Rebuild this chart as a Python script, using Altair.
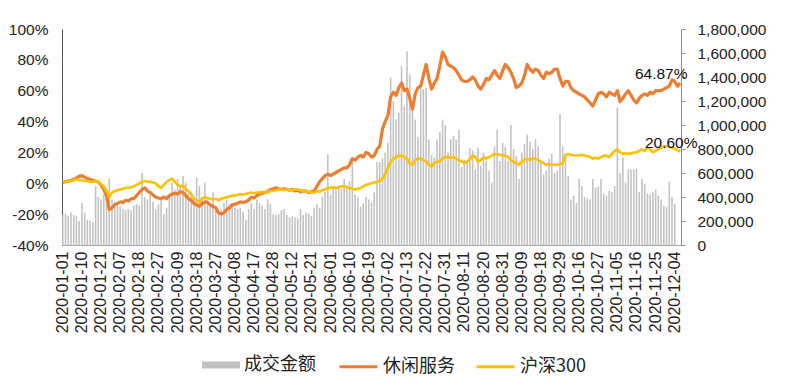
import altair as alt
import pandas as pd

# ---- calendar (China A-share trading days 2020, incl. the 01-01 row) ----
holidays = ["2020-01-24", "2020-01-27", "2020-01-28", "2020-01-29", "2020-01-30", "2020-01-31",
            "2020-04-06", "2020-05-01", "2020-05-04", "2020-05-05", "2020-06-25", "2020-06-26",
            "2020-10-01", "2020-10-02", "2020-10-05", "2020-10-06", "2020-10-07", "2020-10-08"]
dates = [d.strftime("%Y-%m-%d") for d in pd.bdate_range("2020-01-01", "2020-12-08")]
dates = [d for d in dates if d not in holidays]

tick_labels = ["2020-01-01", "2020-01-10", "2020-01-21", "2020-02-07", "2020-02-18", "2020-02-27",
               "2020-03-09", "2020-03-18", "2020-03-27", "2020-04-08", "2020-04-17", "2020-04-28",
               "2020-05-12", "2020-05-21", "2020-06-01", "2020-06-10", "2020-06-19", "2020-07-02",
               "2020-07-13", "2020-07-22", "2020-07-31", "2020-08-11", "2020-08-20", "2020-08-31",
               "2020-09-09", "2020-09-18", "2020-09-29", "2020-10-16", "2020-10-27", "2020-11-05",
               "2020-11-16", "2020-11-25", "2020-12-04"]

# 休闲服务 cumulative return (%)
leisure = [0.5, 1.0, 1.5, 2.0, 2.5, 3.5, 4.5, 5.0, 4.0, 3.0,
           2.5, 2.0, 1.5, 1.0, -1.0, -4.0, -8.0, -17.0, -16.0, -14.0,
           -13.0, -12.0, -12.5, -11.0, -11.5, -10.0, -10.0, -8.0, -6.0, -4.0,
           -3.0, -5.0, -6.0, -7.5, -9.0, -9.5, -10.0, -9.0, -10.0, -8.0,
           -7.0, -6.5, -7.0, -5.5, -6.0, -8.0, -10.0, -11.0, -13.0, -14.0,
           -15.0, -13.0, -12.0, -12.5, -14.0, -15.0, -16.0, -19.0, -20.0, -19.0,
           -17.0, -16.0, -14.0, -13.5, -13.0, -12.0, -12.5, -12.0, -11.0, -9.0,
           -9.5, -8.0, -7.0, -6.5, -6.0, -5.5, -4.0, -3.5, -3.0, -3.5,
           -4.0, -3.5, -4.0, -4.5, -4.0, -5.0, -4.5, -5.5, -5.0, -5.0,
           -6.0, -5.5, -5.0, -2.0, 1.0, 3.0, 5.0, 6.0, 5.0, 6.0,
           7.0, 8.0, 9.0, 10.0, 10.0, 12.0, 16.0, 15.0, 17.0, 18.0,
           17.0, 20.0, 19.0, 17.0, 18.0, 22.0, 24.0, 35.0, 40.0, 44.0,
           56.0, 59.0, 57.0, 62.0, 65.0, 60.0, 61.0, 55.0, 48.0, 58.0,
           62.0, 63.0, 70.0, 77.0, 68.0, 61.0, 65.0, 68.0, 76.0, 85.0,
           82.0, 77.0, 76.0, 75.0, 73.0, 70.0, 67.0, 66.0, 66.0, 67.0,
           69.0, 67.0, 63.0, 61.0, 64.0, 68.0, 67.0, 70.0, 73.0, 70.0,
           68.0, 73.0, 77.0, 75.0, 72.0, 68.0, 62.0, 63.0, 65.0, 70.0,
           77.0, 74.0, 72.0, 74.0, 73.0, 70.0, 68.0, 72.0, 71.0, 72.0,
           74.0, 74.0, 68.0, 63.0, 66.0, 66.0, 62.0, 60.0, 59.0, 58.0,
           57.0, 56.0, 54.0, 52.0, 50.0, 54.0, 58.0, 59.0, 58.0, 56.0,
           59.0, 58.0, 57.0, 60.0, 53.0, 55.0, 58.0, 60.0, 57.0, 54.0,
           52.0, 55.0, 57.0, 58.0, 57.0, 59.0, 58.0, 60.0, 60.0, 60.0,
           61.0, 62.0, 63.0, 67.0, 66.0, 63.0, 64.87]

# 沪深300 cumulative return (%)
hs300 = [0.5, 1.0, 1.5, 1.5, 2.0, 2.5, 2.0, 2.0, 1.5, 1.5,
         1.0, 1.0, 1.5, 1.0, -0.5, -2.0, -5.0, -9.0, -6.0, -5.0,
         -4.5, -4.0, -3.5, -3.0, -3.0, -2.5, -2.0, -1.0, 0.0, 1.0,
         1.5, 1.0, 1.0, 0.5, 0.0, -2.0, -3.0, -1.0, 1.0, 2.0,
         3.0, 1.0, -1.0, -2.0, -1.5, -4.0, -5.0, -7.0, -10.0, -11.0,
         -12.0, -10.0, -9.0, -9.5, -10.0, -10.5, -10.0, -11.0, -10.0, -9.5,
         -9.0, -8.5, -8.0, -8.0, -7.5, -7.0, -7.5, -7.0, -6.5, -6.0,
         -6.5, -6.0, -6.0, -5.5, -6.0, -6.0, -5.0, -5.0, -4.5, -4.0,
         -4.0, -4.5, -4.0, -4.0, -4.5, -4.0, -4.0, -4.5, -5.0, -5.0,
         -5.5, -6.0, -6.0, -5.0, -5.5, -4.5, -4.0, -3.0, -3.0, -2.5,
         -3.0, -2.5, -2.0, -2.0, -2.5, -3.0, -3.5, -4.0, -3.5, -3.0,
         -2.0, -1.0, -0.5, 0.0, 0.5, 1.0, 1.5, 3.0, 6.0, 10.0,
         14.0, 16.0, 17.0, 18.0, 18.0, 17.0, 16.0, 13.0, 12.0, 15.0,
         16.0, 16.0, 15.0, 14.0, 12.0, 11.0, 13.0, 14.0, 14.0, 16.0,
         17.0, 17.0, 16.5, 17.0, 16.0, 15.0, 14.0, 13.0, 14.0, 16.0,
         18.0, 17.0, 14.0, 15.0, 17.0, 16.0, 17.0, 18.0, 19.0, 19.0,
         18.5, 18.0, 18.0, 17.0, 15.0, 14.0, 13.0, 12.0, 14.0, 15.0,
         16.0, 15.0, 16.0, 16.0, 15.0, 14.0, 13.0, 12.0, 12.5, 12.0,
         12.0, 12.0, 12.5, 13.0, 18.0, 19.0, 18.5, 18.0, 18.0, 18.0,
         18.5, 18.0, 17.5, 17.0, 16.0, 16.5, 16.0, 17.0, 18.0, 18.0,
         17.0, 19.0, 21.0, 22.0, 20.0, 19.0, 19.5, 19.0, 19.5, 20.0,
         20.0, 21.0, 22.0, 21.0, 23.0, 22.0, 20.0, 21.0, 22.0, 23.0,
         24.0, 24.0, 23.5, 23.0, 22.5, 21.5, 20.6]

# 成交金额 (thousands); last two days have no bar
amount_k = [255, 260, 245, 270, 250, 240, 200, 350, 270, 210,
            200, 190, 490, 400, 380, 420, 460, 550, 380, 360,
            350, 320, 300, 290, 300, 290, 330, 340, 330, 600,
            400, 380, 420, 360, 300, 340, 380, 260, 310, 400,
            520, 460, 550, 490, 575, 520, 430, 410, 380, 560,
            490, 400, 520, 380, 330, 440, 325, 270, 300, 350,
            380, 340, 350, 310, 300, 310, 280, 210, 300, 350,
            300, 380, 350, 330, 300, 380, 340, 255, 250, 255,
            290, 300, 250, 230, 240, 230, 220, 300, 250, 270,
            260, 240, 310, 340, 310, 400, 440, 755, 420, 490,
            470, 480, 470, 550, 470, 530, 690, 420, 400, 320,
            350, 400, 380, 355, 440, 690, 690, 720, 770, 850,
            1395, 1200, 1045, 1100, 1490, 1155, 1615, 1420, 1130, 1045,
            900, 1310, 1300, 1310, 880, 750, 730, 880, 940, 1045,
            1000, 770, 880, 910, 880, 960, 650, 710, 700, 810,
            790, 630, 810, 660, 770, 700, 620, 520, 820, 960,
            700, 850, 820, 700, 1000, 800, 740, 550, 770, 840,
            920, 860, 800, 880, 820, 690, 590, 620, 720, 760,
            600, 620, 1090, 820, 760, 575, 380, 410, 350, 550,
            490, 400, 390, 380, 550, 480, 490, 550, 430, 410,
            450, 440, 490, 1145, 600, 730, 520, 630, 630, 630,
            635, 440, 550, 510, 430, 420, 440, 460, 410, 380,
            330, 320, 530, 400, 340]

series_names = ["成交金额", "休闲服务", "沪深300"]
colors = ["#BFBFBF", "#ED7D31", "#FFC000"]

bar_df = pd.DataFrame({"date": dates[:len(amount_k)],
                       "amount": [v * 1000 for v in amount_k],
                       "series": series_names[0]})
line_df = pd.concat([
    pd.DataFrame({"date": dates, "value": leisure, "series": series_names[1]}),
    pd.DataFrame({"date": dates, "value": hs300, "series": series_names[2]}),
])

FONT = "Liberation Sans"
CJK = "Noto Sans CJK SC"
LX0, LY = 140, 317

x_enc = alt.X("date:O",
              scale=alt.Scale(domain=dates, paddingInner=0.42, paddingOuter=0),
              axis=alt.Axis(values=tick_labels, labelAngle=-90, ticks=False, title=None,
                            domainColor="#A6A6A6", labelFontSize=16, labelPadding=6,
                            labelOverlap=False, labelColor="#222", labelFont=FONT))

bars = alt.Chart(bar_df).mark_bar(opacity=0.95).encode(
    x=x_enc,
    y=alt.Y("amount:Q", scale=alt.Scale(domain=[0, 1800000], nice=False),
            axis=alt.Axis(orient="right", values=list(range(0, 1800001, 200000)), format=",d",
                          title=None, grid=False, tickSize=4, tickColor="#8C8C8C",
                          domainColor="#8C8C8C", labelPadding=12, labelFontSize=15.5,
                          labelColor="#222", labelFont=FONT)),
    fill=alt.Fill("series:N", scale=alt.Scale(domain=series_names[:1], range=colors[:1]),
                  legend=alt.Legend(orient="none", legendX=LX0, legendY=LY, direction="horizontal",
                                    title=None, labelFontSize=18, labelFont=CJK, labelColor="#222",
                                    symbolType="M-1,-0.18H1V0.18H-1Z", symbolSize=1444,
                                    symbolStrokeWidth=0, labelOffset=4, padding=0)),
)

stroke_scale = alt.Scale(domain=series_names[1:], range=colors[1:])
line_legend = alt.Legend(orient="none", legendX=LX0 + 136, legendY=LY, direction="horizontal",
                         title=None, labelFontSize=18, labelFont=CJK, labelColor="#222",
                         symbolType="stroke", symbolSize=1444, symbolStrokeWidth=3,
                         labelOffset=4, columnPadding=15, padding=0)

y_left = alt.Y("value:Q", scale=alt.Scale(domain=[-40, 100], nice=False),
               axis=alt.Axis(values=list(range(-40, 101, 20)), labelExpr="datum.value + '%'",
                             title=None, grid=False, ticks=False, domainColor="#595959",
                             labelPadding=14, labelFontSize=15.5, labelColor="#222",
                             labelFont=FONT))

orange = alt.Chart(line_df).transform_filter(alt.datum.series == series_names[1]).mark_line(
    strokeWidth=3.2, strokeJoin="round").encode(
    x=x_enc, y=y_left, stroke=alt.Stroke("series:N", scale=stroke_scale, legend=line_legend))

yellow = alt.Chart(line_df).transform_filter(alt.datum.series == series_names[2]).mark_line(
    strokeWidth=2.6, strokeJoin="round").encode(
    x=x_enc, y=y_left, stroke=alt.Stroke("series:N", scale=stroke_scale, legend=line_legend))

def end_label(name, dx):
    return alt.Chart(line_df).transform_filter(
        (alt.datum.series == name) & (alt.datum.date == dates[-1])
    ).transform_calculate(
        label="format(datum.value, '.2f') + '%'"
    ).mark_text(fontSize=15.5, font=FONT, color="#111", dx=dx, dy=-9).encode(
        x=x_enc, y=y_left, text="label:N")

lines = alt.layer(orange, yellow, end_label(series_names[1], -19), end_label(series_names[2], -9))

chart = alt.layer(bars, lines).resolve_scale(y="independent").properties(
    width=619, height=216,
    padding={"left": 0, "top": 14, "right": 5, "bottom": 5},
    background="white",
).configure_view(stroke=None)

chart.save("out.html", embed_options={"renderer": "svg", "actions": False})
